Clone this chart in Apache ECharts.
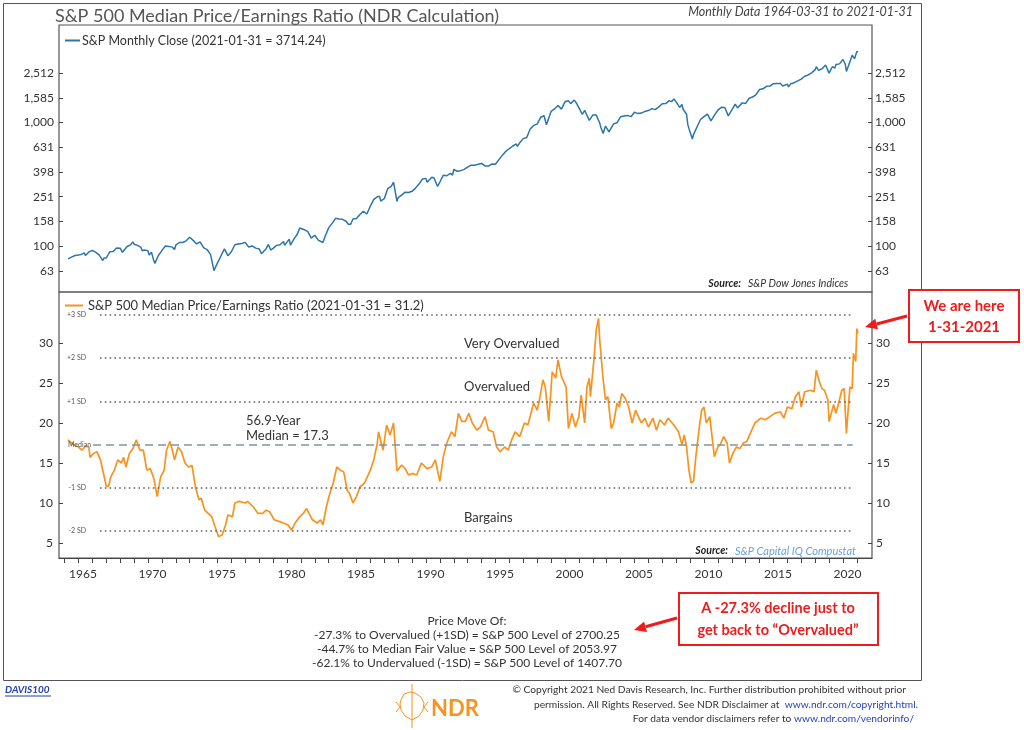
<!DOCTYPE html>
<html><head><meta charset="utf-8">
<script src="https://cdn.jsdelivr.net/npm/echarts@6/dist/echarts.min.js"></script>
<style>html,body{margin:0;padding:0;background:#fff}#c{width:1024px;height:730px}</style>
</head><body><div id="c"></div>
<script>
// ---------------- DATA ----------------
const spDates = ['1964-03','1964-06','1964-09','1964-12','1965-03','1965-05','1965-06','1965-09','1965-12','1966-01','1966-03','1966-06','1966-09','1966-10','1966-12','1967-03','1967-06','1967-09','1967-12','1968-02','1968-06','1968-09','1968-11','1968-12','1969-03','1969-06','1969-07','1969-09','1969-12','1970-01','1970-03','1970-05','1970-06','1970-09','1970-12','1971-03','1971-04','1971-06','1971-09','1971-11','1971-12','1972-03','1972-06','1972-09','1972-12','1973-03','1973-06','1973-09','1973-12','1974-03','1974-06','1974-09','1974-11','1974-12','1975-03','1975-06','1975-09','1975-12','1976-03','1976-06','1976-09','1976-12','1977-03','1977-06','1977-09','1977-12','1978-02','1978-06','1978-08','1978-10','1978-12','1979-03','1979-06','1979-09','1979-10','1979-12','1980-02','1980-03','1980-06','1980-09','1980-11','1980-12','1981-03','1981-06','1981-09','1981-12','1982-03','1982-07','1982-09','1982-12','1983-03','1983-06','1983-09','1983-12','1984-03','1984-05','1984-07','1984-09','1984-12','1985-03','1985-06','1985-09','1985-12','1986-03','1986-06','1986-08','1986-09','1986-12','1987-03','1987-06','1987-08','1987-09','1987-11','1987-12','1988-03','1988-06','1988-09','1988-12','1989-03','1989-06','1989-09','1989-12','1990-01','1990-05','1990-07','1990-10','1990-12','1991-03','1991-06','1991-09','1991-11','1991-12','1992-03','1992-06','1992-09','1992-12','1993-03','1993-06','1993-09','1993-12','1994-01','1994-03','1994-06','1994-09','1994-12','1995-03','1995-06','1995-09','1995-12','1996-03','1996-06','1996-07','1996-09','1996-12','1997-03','1997-06','1997-09','1997-12','1998-03','1998-06','1998-08','1998-09','1998-12','1999-03','1999-06','1999-09','1999-12','2000-03','2000-05','2000-08','2000-10','2000-12','2001-01','2001-03','2001-05','2001-09','2001-12','2002-03','2002-06','2002-07','2002-09','2002-11','2003-02','2003-03','2003-06','2003-09','2003-12','2004-03','2004-06','2004-09','2004-12','2005-03','2005-06','2005-09','2005-12','2006-03','2006-06','2006-09','2006-12','2007-03','2007-06','2007-08','2007-10','2007-12','2008-03','2008-05','2008-06','2008-09','2008-10','2008-11','2008-12','2009-02','2009-03','2009-06','2009-09','2009-12','2010-03','2010-04','2010-06','2010-09','2010-12','2011-03','2011-04','2011-06','2011-09','2011-12','2012-03','2012-05','2012-09','2012-12','2013-03','2013-06','2013-09','2013-12','2014-03','2014-06','2014-09','2014-12','2015-03','2015-06','2015-08','2015-09','2015-12','2016-01','2016-03','2016-06','2016-09','2016-12','2017-03','2017-06','2017-09','2017-12','2018-01','2018-03','2018-06','2018-09','2018-12','2019-03','2019-05','2019-06','2019-09','2019-12','2020-01','2020-02','2020-03','2020-06','2020-08','2020-10','2020-12','2021-01'];
const spValues = [78.98,81.7,84.2,84.75,86.2,88.4,84.1,89.96,92.43,92.88,89.2,84.7,76.6,80.2,80.33,90.2,90.64,96.71,96.47,89.36,99.58,102.67,108.37,103.86,101.51,97.71,91.83,93.12,92.06,85.02,89.63,76.55,72.72,84.21,92.15,100.31,103.95,99.7,98.34,93.99,102.09,107.2,107.14,110.55,118.05,111.52,104.26,108.43,97.55,93.98,86.0,63.54,69.97,68.56,83.36,95.19,83.87,90.19,102.77,104.28,105.24,107.46,98.42,100.48,96.53,95.1,87.04,95.53,103.29,93.15,96.11,101.59,102.91,109.32,101.82,107.94,113.66,102.09,114.24,125.46,140.52,135.76,136.0,131.21,116.18,122.55,111.96,107.09,120.42,140.64,152.96,168.11,166.07,164.93,159.18,150.55,150.66,166.1,167.24,180.66,191.85,182.08,211.28,238.9,250.84,252.93,231.32,242.17,291.7,304.0,329.8,321.83,230.3,247.08,258.89,273.5,271.91,277.72,294.87,317.98,349.15,353.4,329.08,361.23,356.15,304.0,330.22,375.22,371.16,387.86,375.22,417.09,403.69,408.14,417.8,435.71,451.67,450.53,458.93,466.45,481.61,445.77,444.27,462.69,459.27,500.71,544.75,584.41,615.93,645.5,670.63,639.95,687.33,740.74,757.12,885.14,947.28,970.43,1101.75,1133.84,957.28,1017.01,1229.23,1286.37,1372.71,1282.71,1469.25,1498.58,1420.6,1517.68,1429.4,1320.28,1366.01,1160.33,1255.82,1040.94,1148.08,1147.39,989.82,911.62,815.28,936.31,841.15,848.18,974.5,995.97,1111.92,1126.21,1140.84,1114.58,1211.92,1180.59,1191.33,1228.81,1248.29,1294.83,1270.2,1335.85,1418.3,1420.86,1503.35,1473.99,1549.38,1468.36,1322.7,1400.38,1280.0,1166.36,968.75,896.24,903.25,735.09,797.87,919.32,1057.08,1115.1,1169.43,1186.69,1030.71,1141.2,1257.64,1325.83,1363.61,1320.64,1131.42,1257.6,1408.47,1310.33,1440.67,1426.19,1569.19,1606.28,1681.55,1848.36,1872.34,1960.23,1972.29,2058.9,2067.89,2063.11,1972.18,1920.03,2043.94,1940.24,2059.74,2098.86,2168.27,2238.83,2362.72,2423.41,2519.36,2673.61,2823.81,2640.87,2718.37,2913.98,2506.85,2834.4,2752.06,2941.76,2976.74,3230.78,3225.52,2954.22,2584.59,3100.29,3500.31,3269.96,3756.07,3714.24];

const peDates = ['1964-03','1964-08','1964-12','1965-03','1965-06','1965-09','1965-10','1966-01','1966-04','1966-07','1966-09','1966-12','1967-02','1967-04','1967-07','1967-10','1968-01','1968-03','1968-05','1968-08','1968-11','1969-02','1969-05','1969-08','1969-11','1970-02','1970-05','1970-08','1970-11','1971-02','1971-04','1971-07','1971-09','1971-11','1972-02','1972-05','1972-08','1972-11','1973-02','1973-05','1973-08','1973-10','1974-01','1974-04','1974-07','1974-10','1975-01','1975-04','1975-07','1975-09','1976-01','1976-03','1976-07','1976-12','1977-02','1977-07','1977-11','1978-03','1978-06','1978-09','1979-01','1979-05','1979-09','1980-01','1980-04','1980-07','1980-10','1981-02','1981-05','1981-07','1981-10','1982-02','1982-05','1982-07','1982-10','1983-01','1983-04','1983-07','1983-10','1984-01','1984-04','1984-06','1984-09','1984-12','1985-03','1985-07','1985-12','1986-03','1986-06','1986-07','1986-08','1986-11','1987-02','1987-05','1987-08','1987-09','1987-11','1988-03','1988-06','1988-09','1988-12','1989-04','1989-08','1990-01','1990-05','1990-08','1990-12','1991-03','1991-06','1991-10','1992-01','1992-04','1992-07','1992-10','1993-01','1993-04','1993-08','1993-11','1994-03','1994-06','1994-10','1995-01','1995-04','1995-08','1995-11','1996-02','1996-05','1996-09','1997-01','1997-04','1997-09','1997-12','1998-02','1998-05','1998-07','1998-10','1999-01','1999-04','1999-06','1999-09','2000-01','2000-03','2000-06','2000-09','2000-12','2001-02','2001-05','2001-07','2001-09','2001-10','2002-01','2002-03','2002-05','2002-06','2002-09','2002-11','2003-01','2003-04','2003-06','2003-09','2003-11','2004-01','2004-04','2004-07','2004-10','2005-01','2005-04','2005-06','2005-09','2005-12','2006-04','2006-07','2006-10','2007-02','2007-05','2007-10','2008-02','2008-05','2008-07','2008-09','2008-11','2009-01','2009-03','2009-05','2009-08','2009-10','2009-12','2010-02','2010-05','2010-07','2010-09','2010-12','2011-02','2011-05','2011-08','2011-10','2012-01','2012-04','2012-07','2012-10','2013-01','2013-04','2013-08','2014-01','2014-05','2014-09','2015-01','2015-06','2015-09','2015-12','2016-04','2016-07','2016-10','2016-12','2017-03','2017-08','2017-11','2018-01','2018-04','2018-06','2018-08','2018-11','2018-12','2019-04','2019-06','2019-09','2019-11','2020-01','2020-03','2020-06','2020-08','2020-09','2020-11','2020-12','2021-01'];
const peValues = [17.9,17.25,17.0,16.6,17.1,17.0,15.7,16.2,16.4,15.4,14.1,12.1,12.1,13.3,14.1,15.4,15.0,15.7,14.5,16.2,16.8,17.9,16.6,16.6,14.1,14.3,13.1,10.8,13.3,14.1,16.6,17.7,16.6,15.4,17.0,16.4,15.0,14.5,14.7,12.0,10.4,10.6,9.1,8.7,8.3,7.0,5.8,6.0,7.25,8.5,8.3,10.0,10.2,10.0,10.2,9.5,8.7,8.7,9.1,8.9,7.9,7.7,7.5,7.25,6.6,7.5,8.1,8.7,9.3,8.7,7.9,7.5,7.9,7.25,9.5,11.2,12.5,14.5,14.1,13.9,11.6,11.2,10.0,10.8,12.0,12.5,14.1,15.4,17.5,18.9,18.9,16.6,19.75,18.5,20.0,20.2,14.0,14.75,14.3,13.5,13.7,13.5,15.0,14.3,14.5,15.4,12.7,15.8,17.5,18.9,18.3,21.2,20.2,20.2,21.2,20.0,19.1,19.5,20.8,19.1,18.9,17.0,16.4,17.0,16.6,17.9,18.9,18.3,20.0,19.75,22.5,21.6,22.9,25.4,24.5,20.2,26.4,25.6,27.9,25.8,24.5,19.3,21.2,19.5,20.8,23.5,20.0,24.5,25.6,23.3,27.9,31.6,33.1,30.4,25.4,22.9,23.3,19.3,20.0,22.5,22.0,23.7,23.1,22.0,20.0,21.6,20.6,20.0,20.6,19.5,20.6,19.1,20.4,19.75,20.6,19.75,18.9,17.3,18.5,17.0,14.1,12.5,12.7,15.8,19.5,21.6,22.0,20.0,20.8,18.3,15.8,17.0,17.3,18.3,17.5,15.0,16.2,17.0,16.8,17.5,17.7,18.7,20.0,20.6,20.4,20.8,21.2,21.4,20.6,22.0,21.8,23.3,23.9,22.0,23.9,24.1,23.9,26.6,25.0,24.3,24.1,22.9,20.2,22.3,21.2,22.9,24.1,24.3,18.7,24.5,24.3,28.7,27.7,31.8,31.2];

const sdLevels = [33.5, 28.1, 22.7, 17.3, 11.9, 6.5];
const sdLabels = ['+3 SD', '+2 SD', '+1 SD', 'Median', '-1 SD', '-2 SD'];
const priceTickExps = [1.8, 2.0, 2.2, 2.4, 2.6, 2.8, 3.0, 3.2, 3.4];
const peTicks = [5, 10, 15, 20, 25, 30];
const yearTicks = [];
for (let y = 1964; y <= 2021; y++) yearTicks.push(y);
const yearLabels = [1965, 1970, 1975, 1980, 1985, 1990, 1995, 2000, 2005, 2010, 2015, 2020];
const spName = 'S&P Monthly Close (2021-01-31 = 3714.24)';
const peName = 'S&P 500 Median Price/Earnings Ratio (2021-01-31 = 31.2)';
const priceMoveLines = ['Price Move Of:', '-27.3% to Overvalued (+1SD) = S&P 500 Level of 2700.25', '-44.7% to Median Fair Value = S&P 500 Level of 2053.97', '-62.1% to Undervalued (-1SD) = S&P 500 Level of 1407.70'];

// ---------------- BUILD ----------------
function toYear(s) { const p = s.split('-').map(Number); return p[0] + p[1] / 12; }
const spData = spDates.map((d, i) => [toYear(d), spValues[i]]);
const peData = peDates.map((d, i) => [toYear(d), peValues[i]]);
const priceTicks = priceTickExps.map(e => Math.pow(10, e));
const X_MIN = 1963.6, X_MAX = 2022.09;
const FONT = 'Lato, "Open Sans", sans-serif';
const RED = '#ee1c1c';
const ORANGE = '#f7931e';

const sdLineStart = 1966.55, medianLineStart = 1966.05, sdLineEnd = 2020.7;
const markData = sdLevels.map((lv, i) => {
  const isMed = sdLabels[i] === 'Median';
  return [
    { coord: [isMed ? medianLineStart : sdLineStart, lv],
      lineStyle: isMed ? { color: '#7f95a5', type: [8, 5], width: 1.6 } : { color: '#666', type: [1.6, 3.2], width: 1.6 },
      label: { show: true, position: 'start', formatter: sdLabels[i], distance: isMed ? 2 : 14, fontSize: 7, color: '#555', fontFamily: FONT } },
    { coord: [sdLineEnd, lv] }
  ];
});

function logAxis(pos, margin) {
  return {
    type: 'log', logBase: 10, gridIndex: 0, position: pos,
    min: Math.pow(10, 1.63), max: Math.pow(10, 3.788),
    axisLine: { show: false }, splitLine: { show: false },
    axisTick: { show: true, inside: true, length: 4, lineStyle: { color: '#444' }, customValues: priceTicks },
    axisLabel: { customValues: priceTicks, margin: margin, color: '#333', fontSize: 12, fontFamily: FONT,
      formatter: v => Math.round(v).toLocaleString('en-US') }
  };
}
function peAxis(pos, margin) {
  return {
    type: 'value', gridIndex: 1, position: pos, min: 3.125, max: 36.375,
    axisLine: { show: false }, splitLine: { show: false },
    axisTick: { show: true, inside: true, length: 4, lineStyle: { color: '#444' }, customValues: peTicks },
    axisLabel: { customValues: peTicks, margin: margin, color: '#333', fontSize: 12, fontFamily: FONT }
  };
}

const T = (text, x, y, o) => Object.assign({ type: 'text', x: x, y: y, silent: true,
  style: Object.assign({ text: text, font: '12px ' + FONT, fill: '#333', textAlign: 'left', textVerticalAlign: 'middle' }, o || {}) });

function arrow(x1, y1, x2, y2) {
  const dx = x2 - x1, dy = y2 - y1, L = Math.hypot(dx, dy), ux = dx / L, uy = dy / L;
  const bx = x2 - 12 * ux, by = y2 - 12 * uy, nx = -uy, ny = ux;
  return [
    { type: 'line', silent: true, shape: { x1: x1, y1: y1, x2: bx, y2: by }, style: { stroke: RED, lineWidth: 3 } },
    { type: 'polygon', silent: true, shape: { points: [[x2, y2], [bx + 5.5 * nx, by + 5.5 * ny], [bx - 5.5 * nx, by - 5.5 * ny]] }, style: { fill: RED } }
  ];
}

const graphics = [
  { type: 'rect', silent: true, z: -1, shape: { x: 3.5, y: 3.5, width: 918, height: 677 }, style: { fill: 'none', stroke: '#555', lineWidth: 1 } },
  T('S&P 500 Median Price/Earnings Ratio (NDR Calculation)', 55, 16, { font: '18px ' + FONT, fill: '#555' }),
  T('Monthly Data 1964-03-31 to 2021-01-31', 913, 12, { font: 'italic 12.5px ' + FONT, fill: '#444', textAlign: 'right' }),
  T('Source:', 741, 284, { font: 'italic bold 10.5px ' + FONT, fill: '#222', textAlign: 'right' }),
  T('S&P Dow Jones Indices', 748, 284, { font: 'italic 10.5px ' + FONT, fill: '#333' }),
  T('Source:', 728, 551, { font: 'italic bold 10.5px ' + FONT, fill: '#222', textAlign: 'right' }),
  T('S&P Capital IQ Compustat', 735, 551, { font: 'italic 11px ' + FONT, fill: '#6aa3d8' }),
  T('Very Overvalued', 464, 344, { font: '13px ' + FONT }),
  T('Overvalued', 464, 387, { font: '13px ' + FONT }),
  T('Bargains', 464, 518, { font: '13px ' + FONT }),
  T('56.9-Year', 246, 421, { font: '13px ' + FONT }),
  T('Median = 17.3', 246, 436, { font: '13px ' + FONT }),
  // callout 1
  { type: 'rect', silent: true, shape: { x: 909, y: 290, width: 110, height: 52 }, style: { fill: '#fff', stroke: RED, lineWidth: 2 } },
  T('We are here', 964, 306, { font: 'bold 15px ' + FONT, fill: RED, textAlign: 'center' }),
  T('1-31-2021', 964, 327, { font: 'bold 15px ' + FONT, fill: RED, textAlign: 'center' }),
  ...arrow(907, 316, 865, 327),
  // callout 2
  { type: 'rect', silent: true, shape: { x: 679, y: 593, width: 199, height: 52 }, style: { fill: '#fff', stroke: RED, lineWidth: 2 } },
  T('A -27.3% decline just to', 778, 608, { font: 'bold 14.5px ' + FONT, fill: RED, textAlign: 'center' }),
  T('get back to \u201COvervalued\u201D', 778, 630, { font: 'bold 14.5px ' + FONT, fill: RED, textAlign: 'center' }),
  ...arrow(677, 618, 634, 630),
  // footer
  T('DAVIS100', 5, 690, { font: 'italic bold 10px ' + FONT, fill: '#1f3fae' }),
  { type: 'line', silent: true, shape: { x1: 5, y1: 696, x2: 51, y2: 696 }, style: { stroke: '#1f3fae', lineWidth: 1 } },
  T('NDR', 431, 709, { font: 'bold 22px ' + FONT, fill: ORANGE }),
  { type: 'polyline', silent: true, shape: { points: [[412, 684], [412, 728]] }, style: { stroke: ORANGE, lineWidth: 1, fill: 'none' } },
  { type: 'polyline', silent: true, shape: { points: [[401, 700], [404, 694], [410, 692], [415, 693], [421, 697], [424, 703], [423, 710], [419, 716], [412, 720], [405, 716], [401, 710], [400, 704], [401, 700]] }, style: { stroke: ORANGE, lineWidth: 1, fill: 'none' } },
  { type: 'polyline', silent: true, shape: { points: [[396, 702], [400, 707], [396, 712]] }, style: { stroke: ORANGE, lineWidth: 1, fill: 'none' } },
  { type: 'polyline', silent: true, shape: { points: [[428, 702], [424, 707], [428, 712]] }, style: { stroke: ORANGE, lineWidth: 1, fill: 'none' } },
  T('\u00A9 Copyright 2021 Ned Davis Research, Inc. Further distribution prohibited without prior', 906, 690, { font: '10.2px ' + FONT, fill: '#333', textAlign: 'right' }),
  T('permission. All Rights Reserved. See NDR Disclaimer at  {u|www.ndr.com/copyright.html.}', 918, 705, { font: '10.2px ' + FONT, fill: '#333', textAlign: 'right', rich: { u: { fill: '#2342c8', font: '10.2px ' + FONT } } }),
  T('For data vendor disclaimers refer to {u|www.ndr.com/vendorinfo/}', 914, 719, { font: '10.2px ' + FONT, fill: '#333', textAlign: 'right', rich: { u: { fill: '#2342c8', font: '10.2px ' + FONT } } })
];
priceMoveLines.forEach((s, i) => graphics.push(T(s, 467, 621 + i * 14, { font: '12px ' + FONT, fill: '#333', textAlign: 'center' })));

const option = {
  animation: false,
  backgroundColor: '#fff',
  textStyle: { fontFamily: FONT },
  grid: [
    { left: 59, top: 25, width: 813, height: 267, show: true, borderColor: '#555', borderWidth: 1.2, backgroundColor: 'transparent' },
    { left: 59, top: 292, width: 813, height: 266, show: true, borderColor: '#555', borderWidth: 1.2, backgroundColor: 'transparent' }
  ],
  legend: [
    { data: [spName], left: 60, top: 29, icon: 'rect', itemWidth: 15, itemHeight: 2, selectedMode: false,
      textStyle: { fontSize: 12.5, color: '#333', fontFamily: FONT, padding: [0, 0, 0, -3] } },
    { data: [peName], left: 60, top: 294, icon: 'rect', itemWidth: 18, itemHeight: 2, selectedMode: false,
      textStyle: { fontSize: 13, color: '#333', fontFamily: FONT } }
  ],
  xAxis: [
    { type: 'value', gridIndex: 0, min: X_MIN, max: X_MAX, show: false },
    { type: 'value', gridIndex: 1, min: X_MIN, max: X_MAX,
      axisLine: { show: true, lineStyle: { color: '#444', width: 1.2 } }, splitLine: { show: false },
      axisTick: { show: true, length: 5, customValues: yearTicks, lineStyle: { color: '#444' } },
      axisLabel: { customValues: yearLabels, margin: 10, color: '#333', fontSize: 12, fontFamily: FONT, padding: [0, 0, 0, 9],
        formatter: v => String(Math.round(v)) } }
  ],
  yAxis: [logAxis('left', 5), logAxis('right', 3), peAxis('left', 6), peAxis('right', 4)],
  series: [
    { name: spName, type: 'line', xAxisIndex: 0, yAxisIndex: 0, data: spData, showSymbol: false,
      lineStyle: { color: '#2c75a8', width: 1.5 }, itemStyle: { color: '#2c75a8' } },
    { name: peName, type: 'line', xAxisIndex: 1, yAxisIndex: 2, data: peData, showSymbol: false,
      lineStyle: { color: ORANGE, width: 1.7 }, itemStyle: { color: ORANGE }, z: 3,
      markLine: { silent: true, symbol: 'none', animation: false, data: markData } }
  ],
  graphic: graphics
};

const chart = echarts.init(document.getElementById('c'), null, { renderer: 'canvas' });
chart.setOption(option);
</script>
</body></html>
